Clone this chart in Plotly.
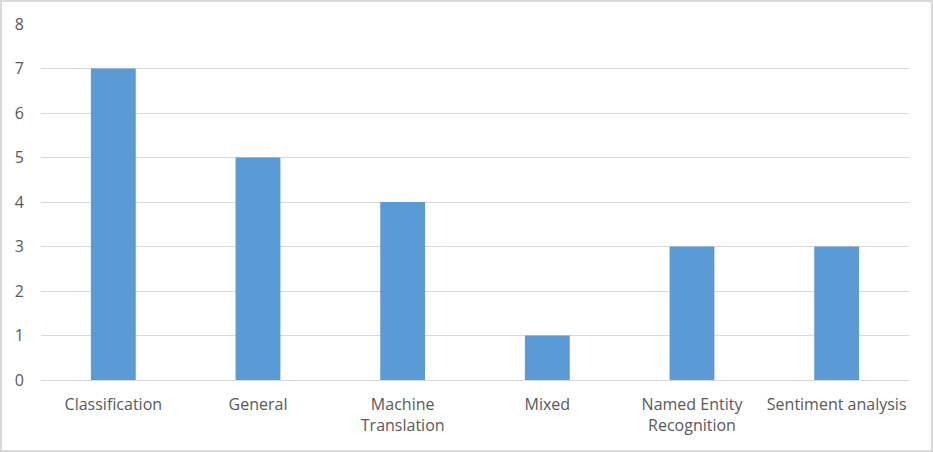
import plotly.graph_objects as go

categories = ["Classification", "General", "Machine Translation", "Mixed",
              "Named Entity Recognition", "Sentiment analysis"]
tick_labels = ["Classification", "General", "Machine<br>Translation", "Mixed",
               "Named Entity<br>Recognition", "Sentiment analysis"]
values = [7, 5, 4, 1, 3, 3]

W, H = 933, 452
ml, mr, mt, mb = 41, 24, 24, 72
pw, ph = W - ml - mr, H - mt - mb

fig = go.Figure(go.Bar(x=categories, y=values, marker=dict(color="#5b9bd5", line=dict(width=0)),
                       hoverinfo="x+y"))

font = dict(family="'Open Sans', 'Noto Sans', sans-serif", size=16, color="#595959")
fig.update_layout(
    width=W, height=H,
    margin=dict(l=ml, r=mr, t=mt, b=mb),
    paper_bgcolor="white", plot_bgcolor="white",
    bargap=0.69, showlegend=False, font=font,
    xaxis=dict(tickmode="array", tickvals=categories, ticktext=tick_labels,
               showgrid=False, showline=True, linecolor="#d9d9d9", linewidth=1,
               ticks="", ticklabelstandoff=10, tickfont=font),
    yaxis=dict(range=[0, 8], dtick=1, showgrid=True, gridcolor="#d9d9d9", gridwidth=1,
               zeroline=False, showline=False, ticks="", ticklabelstandoff=16, tickfont=font),
    shapes=[dict(type="rect", xref="paper", yref="paper",
                 x0=(1 - ml) / pw, x1=(W - 1 - ml) / pw,
                 y0=-(mb - 1) / ph, y1=1 + (mt - 1) / ph,
                 line=dict(color="#d9d9d9", width=2), layer="below")],
)
fig.write_html("out.html", config={"displayModeBar": False})
with open("out.html", encoding="utf-8") as f:
    html = f.read()
html = html.replace("<head>", "<head><style>html,body{margin:0;padding:0;overflow:hidden;}</style>", 1)
with open("out.html", "w", encoding="utf-8") as f:
    f.write(html)
